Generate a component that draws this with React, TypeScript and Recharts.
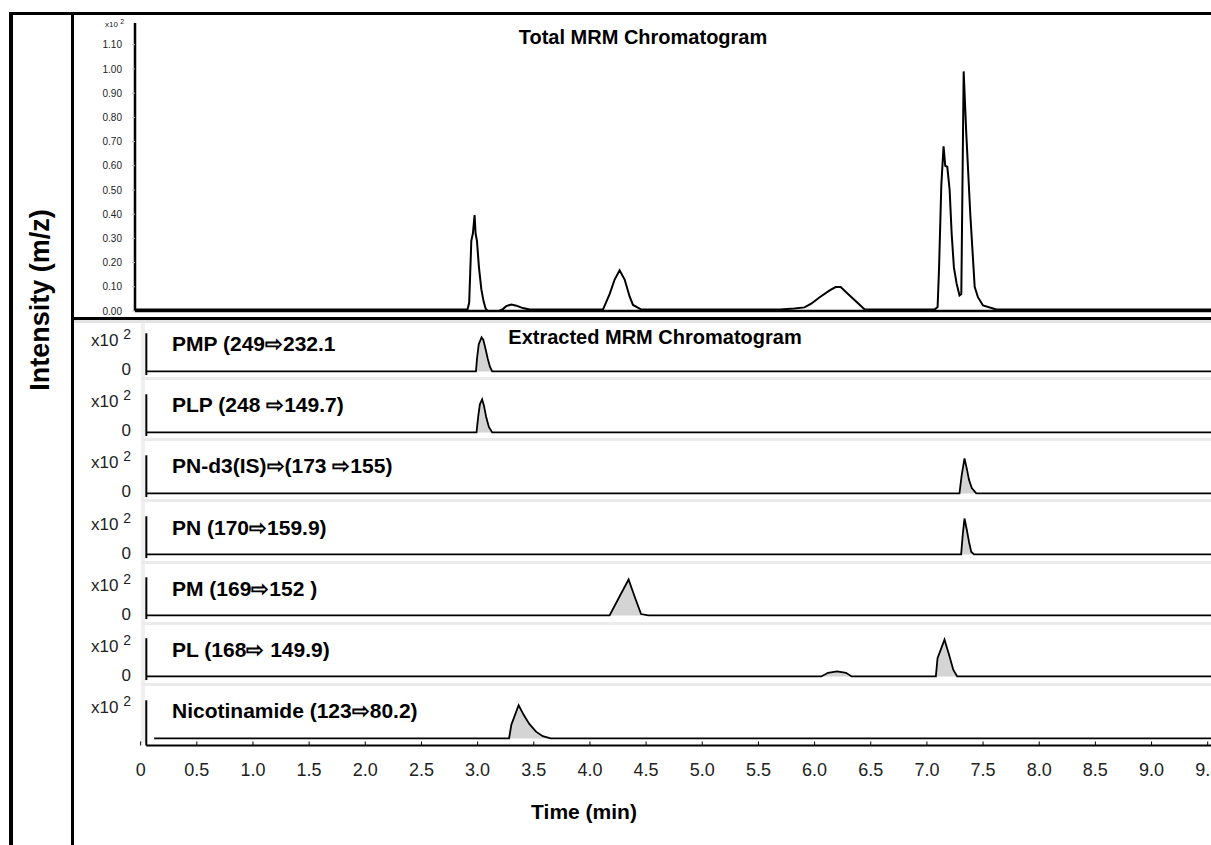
import { AreaChart, Area, LineChart, Line, XAxis, YAxis, ReferenceLine } from "recharts";

const FONT = '"Liberation Sans", Arial, Helvetica, sans-serif';

// time axis shared by every panel (minutes)
const X_DOMAIN: [number, number] = [-0.05, 9.6];
const timeTicks = [0, 0.5, 1, 1.5, 2, 2.5, 3, 3.5, 4, 4.5, 5, 5.5, 6, 6.5, 7, 7.5, 8, 8.5, 9, 9.5];
const totalTicks = [0, 0.1, 0.2, 0.3, 0.4, 0.5, 0.6, 0.7, 0.8, 0.9, 1.0, 1.1];

// total MRM trace: [time, intensity x10^2]
const totalTrace: [number, number][] = [
  [-0.05, 0.006], [2.91, 0.006], [2.925, 0.035], [2.944, 0.29], [2.958, 0.32],
  [2.973, 0.396], [2.982, 0.32], [2.994, 0.29], [3.012, 0.18], [3.033, 0.09],
  [3.053, 0.04], [3.071, 0.01], [3.092, 0.0], [3.19, 0.0], [3.225, 0.008],
  [3.255, 0.02], [3.3, 0.027], [3.345, 0.022], [3.403, 0.012], [3.463, 0.006],
  [4.116, 0.006], [4.175, 0.07], [4.22, 0.13], [4.264, 0.168], [4.309, 0.13],
  [4.353, 0.06], [4.383, 0.025], [4.457, 0.006], [5.69, 0.006], [5.82, 0.01],
  [5.91, 0.015], [5.97, 0.03], [6.045, 0.057], [6.134, 0.085], [6.187, 0.099],
  [6.232, 0.099], [6.312, 0.064], [6.446, 0.006], [7.068, 0.006], [7.095, 0.016],
  [7.108, 0.18], [7.128, 0.52], [7.148, 0.68], [7.163, 0.6], [7.181, 0.596],
  [7.202, 0.5], [7.22, 0.32], [7.24, 0.18], [7.264, 0.114], [7.29, 0.064],
  [7.306, 0.07], [7.327, 0.99], [7.35, 0.735], [7.386, 0.4], [7.425, 0.1],
  [7.454, 0.057], [7.499, 0.023], [7.618, 0.006], [9.6, 0.006],
];

// extracted traces (relative intensity)
const pmpTrace: [number, number][] = [
  [0.05, 0], [2.985, 0], [2.995, 0.3], [3.01, 0.6], [3.035, 0.75], [3.05, 0.7],
  [3.07, 0.5], [3.09, 0.28], [3.11, 0.1], [3.13, 0], [9.6, 0],
];
const plpTrace: [number, number][] = [
  [0.05, 0], [2.99, 0], [3.005, 0.35], [3.02, 0.62], [3.04, 0.73], [3.055, 0.6],
  [3.075, 0.35], [3.1, 0.12], [3.13, 0], [9.6, 0],
];
const pnd3Trace: [number, number][] = [
  [0.05, 0], [7.29, 0], [7.31, 0.4], [7.335, 0.77], [7.355, 0.55], [7.375, 0.3],
  [7.4, 0.12], [7.44, 0], [9.6, 0],
];
const pnTrace: [number, number][] = [
  [0.05, 0], [7.305, 0], [7.32, 0.45], [7.335, 0.79], [7.355, 0.55], [7.375, 0.28],
  [7.395, 0.06], [7.42, 0], [9.6, 0],
];
const pmTrace: [number, number][] = [
  [0.05, 0], [4.175, 0], [4.26, 0.4], [4.344, 0.79], [4.4, 0.4], [4.455, 0.03],
  [4.52, 0], [9.6, 0],
];
const plTrace: [number, number][] = [
  [0.05, 0], [6.06, 0], [6.12, 0.08], [6.2, 0.11], [6.28, 0.08], [6.33, 0],
  [7.08, 0], [7.095, 0.4], [7.157, 0.81], [7.195, 0.5], [7.235, 0.15], [7.27, 0], [9.6, 0],
];
const nicTrace: [number, number][] = [
  [0.12, 0], [3.28, 0], [3.3, 0.3], [3.365, 0.73], [3.41, 0.52], [3.46, 0.32],
  [3.52, 0.15], [3.58, 0.05], [3.65, 0], [9.6, 0],
];

const panelNames = [
  "PMP (249⇨232.1",
  "PLP (248 ⇨149.7)",
  "PN-d3(IS)⇨(173 ⇨155)",
  "PN (170⇨159.9)",
  "PM (169⇨152 )",
  "PL (168⇨ 149.9)",
  "Nicotinamide (123⇨80.2)",
];
const panelTraces = [pmpTrace, plpTrace, pnd3Trace, pnTrace, pmTrace, plTrace, nicTrace];

// layout
const CHART_W = 1219;
const PLOT_LEFT = 135;
const FIRST_BASE = 371;
const PANEL_STEP = 61.17;
const UNIT = 45.45;

const toRows = (trace: [number, number][]) => trace.map(([t, v]) => ({ t, v }));

function hline(left: number, top: number, width: number, height: number, color = "#000") {
  return <div style={{ position: "absolute", left, top, width, height, background: color }} />;
}

function Panel({ name, trace, index }: { name: string; trace: [number, number][]; index: number }) {
  const base = FIRST_BASE + index * PANEL_STEP;
  const isLast = index === panelTraces.length - 1;
  const yMin = isLast ? -0.155 : -0.1;
  const plotH = (1 - yMin) * UNIT;
  const axisH = isLast ? 60 : 0;

  return (
    <>
      <div style={{ position: "absolute", left: 0, top: base - UNIT }}>
        <AreaChart
          width={CHART_W}
          height={plotH + axisH}
          data={toRows(trace)}
          margin={{ top: 0, right: 0, bottom: 0, left: PLOT_LEFT }}
        >
          <XAxis
            type="number"
            dataKey="t"
            domain={X_DOMAIN}
            allowDataOverflow
            hide={!isLast}
            height={axisH}
            ticks={timeTicks}
            interval={0}
            tickFormatter={(v: number) => (v === 0 ? "0" : v.toFixed(1))}
            axisLine={false}
            tickSize={-4}
            tickMargin={22}
            tickLine={{ stroke: "#000" }}
            tick={{ fontSize: 18, fill: "#222", fontFamily: FONT }}
          />
          <YAxis hide type="number" domain={[yMin, 1]} allowDataOverflow />
          <ReferenceLine
            segment={[{ x: 0.05, y: isLast ? yMin : -0.08 }, { x: 0.05, y: 0.84 }]}
            stroke="#000"
            strokeWidth={2}
          />
          {isLast && (
            <ReferenceLine
              segment={[{ x: 0.05, y: yMin }, { x: 9.6, y: yMin }]}
              stroke="#000"
              strokeWidth={2}
            />
          )}
          <Area
            type="linear"
            dataKey="v"
            stroke="#000"
            strokeWidth={1.8}
            fill="#d4d4d4"
            fillOpacity={1}
            isAnimationActive={false}
          />
        </AreaChart>
      </div>
      <div
        style={{
          position: "absolute", left: 172, top: base - 38, fontSize: 21, lineHeight: "22px",
          fontWeight: "bold", whiteSpace: "nowrap",
        }}
      >
        {name}
      </div>
      <div
        style={{
          position: "absolute", left: 70, width: 61, top: base - 41, fontSize: 17, lineHeight: "22px",
          textAlign: "right", color: "#222", whiteSpace: "nowrap",
        }}
      >
        x10 <span style={{ fontSize: 14, position: "relative", top: -7 }}>2</span>
      </div>
      {!isLast && (
        <div
          style={{
            position: "absolute", left: 100, width: 31, top: base - 12, fontSize: 17, lineHeight: "22px",
            textAlign: "right", color: "#222",
          }}
        >
          0
        </div>
      )}
      {!isLast && hline(142, base + 6, 1070, 3, "#ebebeb")}
    </>
  );
}

export default function App() {
  return (
    <div
      style={{
        position: "fixed", left: 0, top: 0, width: 1211, height: 845, overflow: "hidden",
        background: "#fff", fontFamily: FONT, color: "#000",
      }}
    >
      {/* frame */}
      {hline(9, 12, 1202, 3)}
      {hline(9, 12, 4, 833)}
      {hline(71, 12, 3, 833)}
      {hline(72, 317, 1139, 3)}
      {hline(74, 320, 1137, 3, "#e4e4e4")}
      {hline(141, 323, 4, 420, "#f0f0f0")}

      <div
        style={{
          position: "absolute", left: 40, top: 300, transform: "translate(-50%, -50%) rotate(-90deg)",
          fontSize: 27, fontWeight: "bold", whiteSpace: "nowrap",
        }}
      >
        Intensity (m/z)
      </div>

      <div style={{ position: "absolute", left: 0, top: 23 }}>
        <LineChart width={CHART_W} height={296} data={toRows(totalTrace)} margin={{ top: 0, right: 0, bottom: 8, left: 0 }}>
          <XAxis type="number" dataKey="t" domain={X_DOMAIN} allowDataOverflow hide />
          <YAxis
            type="number"
            domain={[0, 1.19]}
            allowDataOverflow
            ticks={totalTicks}
            interval={0}
            width={PLOT_LEFT}
            tickFormatter={(v: number) => v.toFixed(2)}
            axisLine={{ stroke: "#000", strokeWidth: 2.5 }}
            tickLine={{ stroke: "#bbb" }}
            tickSize={3}
            tickMargin={10}
            tick={{ fontSize: 10, fill: "#222", fontFamily: FONT }}
          />
          <ReferenceLine y={0} stroke="#000" strokeWidth={2.5} />
          <Line type="linear" dataKey="v" stroke="#000" strokeWidth={2} dot={false} isAnimationActive={false} />
        </LineChart>
      </div>

      <div style={{ position: "absolute", left: 105, top: 20, fontSize: 8, color: "#222", whiteSpace: "nowrap" }}>
        x10 <span style={{ fontSize: 7, position: "relative", top: -3 }}>2</span>
      </div>

      <div
        style={{
          position: "absolute", left: 643, top: 37, transform: "translate(-50%, -50%)",
          fontSize: 20, fontWeight: "bold", whiteSpace: "nowrap",
        }}
      >
        Total MRM Chromatogram
      </div>
      <div
        style={{
          position: "absolute", left: 655, top: 337, transform: "translate(-50%, -50%)",
          fontSize: 20, fontWeight: "bold", whiteSpace: "nowrap",
        }}
      >
        Extracted MRM Chromatogram
      </div>

      {panelNames.map((name, i) => (
        <Panel key={name} name={name} trace={panelTraces[i]} index={i} />
      ))}

      <div
        style={{
          position: "absolute", left: 584, top: 812, transform: "translate(-50%, -50%)",
          fontSize: 21, fontWeight: "bold", whiteSpace: "nowrap",
        }}
      >
        Time (min)
      </div>
    </div>
  );
}
